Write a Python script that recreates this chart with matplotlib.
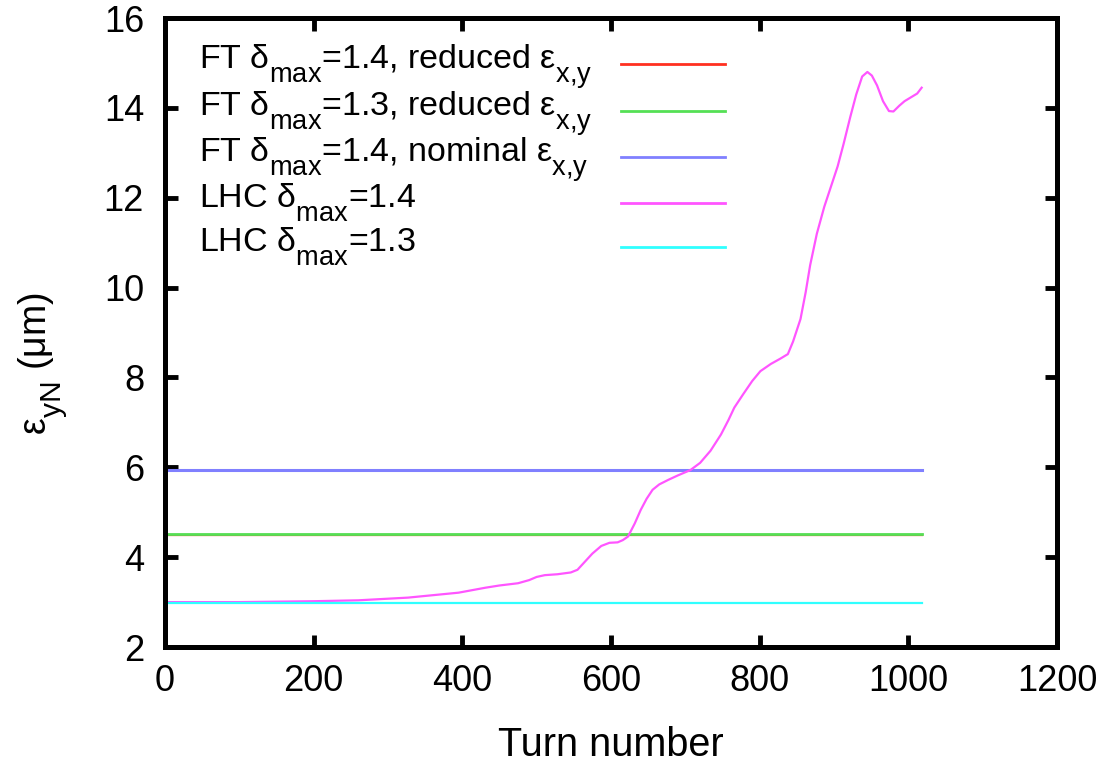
import matplotlib
matplotlib.use("Agg")
import matplotlib.pyplot as plt
import matplotlib._mathtext as _mt

_mt.SHRINK_FACTOR = 0.8
_mt.FontConstantsBase.sub1 = 0.75
_mt.FontConstantsBase.sub2 = 0.75

plt.rcParams['font.family'] = ['Liberation Sans', 'DejaVu Sans']
plt.rcParams['mathtext.fontset'] = 'custom'
plt.rcParams['mathtext.rm'] = 'Liberation Sans'

# ---- data ----
turn_end = 1018
ft14_reduced = 4.50
ft13_reduced = 4.51
ft14_nominal = 5.95
lhc13 = 2.98

lhc14_turns = [0, 100, 200, 260, 327, 395, 431, 450, 475, 490, 500, 511, 528,
               546, 555, 565, 575, 587, 598, 609, 616, 623, 632, 640, 648, 656,
               665, 677, 690, 707, 720, 734, 748, 758, 766, 778, 790, 801, 815,
               828, 838, 845, 855, 862, 868, 877, 887, 895, 905, 913, 922, 930,
               938, 945, 951, 958, 966, 974, 980, 988, 995, 1005, 1012, 1018]
lhc14_vals = [3.0, 3.0, 3.02, 3.04, 3.10, 3.21, 3.32, 3.37, 3.42, 3.49, 3.56,
              3.60, 3.62, 3.66, 3.72, 3.90, 4.08, 4.25, 4.32, 4.33, 4.38, 4.46,
              4.75, 5.05, 5.30, 5.50, 5.62, 5.72, 5.82, 5.94, 6.10, 6.37, 6.73,
              7.05, 7.33, 7.63, 7.92, 8.14, 8.30, 8.42, 8.52, 8.80, 9.30, 9.90,
              10.5, 11.2, 11.8, 12.2, 12.7, 13.2, 13.8, 14.3, 14.7, 14.8, 14.72,
              14.5, 14.15, 13.93, 13.92, 14.05, 14.15, 14.25, 14.32, 14.45]

labels = [r"FT δ$_{\mathregular{max}}$=1.4, reduced ε$_{\mathregular{x{,}y}}$",
          r"FT δ$_{\mathregular{max}}$=1.3, reduced ε$_{\mathregular{x{,}y}}$",
          r"FT δ$_{\mathregular{max}}$=1.4, nominal ε$_{\mathregular{x{,}y}}$",
          r"LHC δ$_{\mathregular{max}}$=1.4",
          r"LHC δ$_{\mathregular{max}}$=1.3"]
colors = ['#ff3020', '#55e055', '#8080ff', '#ff55ff', '#30ffff']

xticks = [0, 200, 400, 600, 800, 1000, 1200]
yticks = [2, 4, 6, 8, 10, 12, 14, 16]

fig = plt.figure(figsize=(11.1, 7.65), dpi=100)
ax = fig.add_axes([0.1486, 0.1542, 0.8036, 0.8222])

lw = 1.6
ax.plot([0, turn_end], [ft14_reduced, ft14_reduced], color=colors[0], lw=lw)
ax.plot([0, turn_end], [ft13_reduced, ft13_reduced], color=colors[1], lw=lw + 0.4)
ax.plot([0, turn_end], [ft14_nominal, ft14_nominal], color=colors[2], lw=lw + 0.6)
ax.plot(lhc14_turns, lhc14_vals, color=colors[3], lw=lw)
ax.plot([0, turn_end], [lhc13, lhc13], color=colors[4], lw=lw)

ax.set_xlim(0, 1200)
ax.set_ylim(2, 16)
ax.set_xticks(xticks)
ax.set_yticks(yticks)
ax.tick_params(direction='in', length=9, width=3.5, labelsize=26,
               top=True, right=True)
ax.tick_params(axis='x', pad=12)
ax.tick_params(axis='y', pad=15)
for s in ax.spines.values():
    s.set_linewidth(3.6)

ax.set_xlabel('Turn number', fontsize=28.5, labelpad=20)
ax.set_ylabel(r"ε$_{\mathregular{yN}}$ (μm)", fontsize=27)
ax.yaxis.set_label_coords(-0.106, 0.45)

# gnuplot-style key: text left, sample line right
row_y = [0.927, 0.852, 0.779, 0.706, 0.636]
text_off = 0.008
for lab, col, yy in zip(labels, colors, row_y):
    ax.text(0.038, yy - text_off, lab, transform=ax.transAxes, fontsize=24.5,
            va='baseline', ha='left')
    ax.plot([0.511, 0.6275], [yy, yy], transform=ax.transAxes, color=col,
            lw=2)

fig.savefig('out.png', dpi=100)
